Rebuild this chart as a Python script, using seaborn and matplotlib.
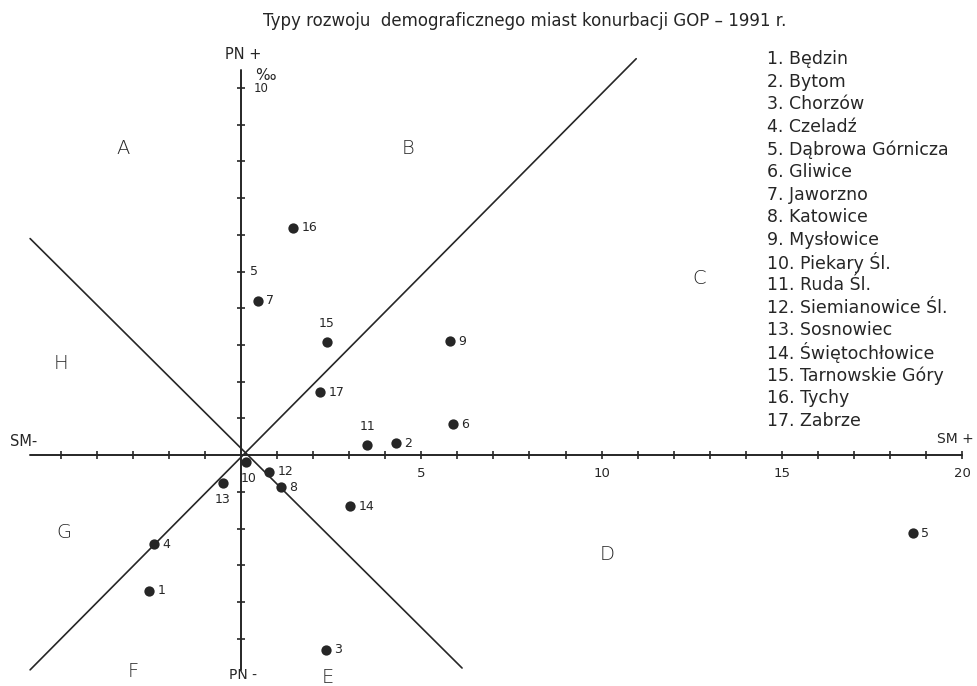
import numpy as np
import pandas as pd
from matplotlib import pyplot as plt
import seaborn as sns

# data: SM (x, saldo migracji) and PN (y, przyrost naturalny), per mille
city_no = [1, 2, 3, 4, 5, 6, 7, 8, 9, 10, 11, 12, 13, 14, 15, 16, 17]
city_names = ["Będzin", "Bytom", "Chorzów", "Czeladź", "Dąbrowa Górnicza",
              "Gliwice", "Jaworzno", "Katowice", "Mysłowice", "Piekary Śl.",
              "Ruda Śl.", "Siemianowice Śl.", "Sosnowiec", "Świętochłowice",
              "Tarnowskie Góry", "Tychy", "Zabrze"]
sm = [-2.55, 4.3, 2.36, -2.4, 18.64, 5.88, 0.47, 1.1, 5.8, 0.14,
      3.5, 0.78, -0.5, 3.02, 2.38, 1.44, 2.19]
pn = [-3.7, 0.33, -5.3, -2.43, -2.13, 0.84, 4.2, -0.87, 3.1, -0.2,
      0.27, -0.45, -0.77, -1.39, 3.08, 6.2, 1.72]

region_letters = ["A", "B", "C", "D", "E", "F", "G", "H"]
region_x = [-3.27, 4.63, 12.7, 10.15, 2.4, -3.0, -4.9, -5.0]
region_y = [8.36, 8.36, 4.8, -2.72, -6.05, -5.9, -2.1, 2.5]

x_ticks = list(range(-5, 21))
y_ticks = list(range(-5, 11))

df = pd.DataFrame({"nr": city_no, "miasto": city_names, "SM": sm, "PN": pn})

sns.set_style("white")
plt.rcParams['font.family'] = ['DejaVu Sans']
ink = "#262626"

fig = plt.figure(figsize=(9.78, 6.86), dpi=100)
ax = fig.add_axes([0, 0, 1, 1])
ax.set_xlim(-6.685, 20.44)
ax.set_ylim(-6.29, 12.40)
ax.axis("off")

# axes with ticks
ax.plot([-5.85, 20.0], [0, 0], color=ink, lw=1.4)
ax.plot([0, 0], [-5.86, 10.5], color=ink, lw=1.4)
ax.scatter([t for t in x_ticks if t != 0], [0] * (len(x_ticks) - 1),
           marker="|", s=40, color=ink, lw=1.2)
ax.scatter([0] * (len(y_ticks) - 1), [t for t in y_ticks if t != 0],
           marker="_", s=40, color=ink, lw=1.2)

# dividing lines
ax.plot([-5.85, 10.96], [-5.85, 10.8], color=ink, lw=1.2)
ax.plot([-5.85, 6.13], [5.9, -5.8], color=ink, lw=1.2)

# cities
sns.scatterplot(data=df, x="SM", y="PN", ax=ax, color=ink, s=55,
                edgecolor=ink, linewidth=0, legend=False, zorder=5)
label_pos = {11: (0, 9, "center", "bottom"), 15: (0, 9, "center", "bottom"),
             13: (0, -7, "center", "top"), 10: (2, -7, "center", "top")}
for n, x, y in zip(city_no, sm, pn):
    dx, dy, ha, va = label_pos.get(n, (6, 0, "left", "center"))
    ax.annotate(str(n), (x, y), xytext=(dx, dy), textcoords="offset points",
                ha=ha, va=va, fontsize=9, color=ink)

# region letters
for s, x, y in zip(region_letters, region_x, region_y):
    ax.text(x, y, s, fontsize=14, color=ink, ha="center", va="center",
            fontweight="light")

# tick labels and axis names
for t in [5, 10, 15, 20]:
    ax.text(t, -0.32, str(t), ha="center", va="top", fontsize=9.5, color=ink)
ax.text(0.35, 10.0, "10", ha="left", va="center", fontsize=8.5, color=ink)
ax.text(0.25, 5.0, "5", ha="left", va="center", fontsize=9, color=ink)
ax.text(0.4, 10.33, "‰", ha="left", va="center", fontsize=11, color=ink)
ax.text(-6.4, 0.18, "SM-", ha="left", va="bottom", fontsize=10.5, color=ink)
ax.text(19.3, 0.25, "SM +", ha="left", va="bottom", fontsize=10, color=ink)
ax.text(0.05, 10.7, "PN +", ha="center", va="bottom", fontsize=10.5, color=ink)
ax.text(0.05, -6.0, "PN -", ha="center", va="center", fontsize=10, color=ink)

# title and list of cities
fig.text(0.537, 0.97, "Typy rozwoju  demograficznego miast konurbacji GOP – 1991 r.",
         ha="center", va="center", fontsize=12, color=ink)
for i, (n, name) in enumerate(zip(city_no, city_names)):
    fig.text(0.784, 1 - (59 + i * 22.6) / 686, f"{n}. {name}",
             ha="left", va="center", fontsize=12.5, color=ink)

fig.savefig("out.png", dpi=100)
